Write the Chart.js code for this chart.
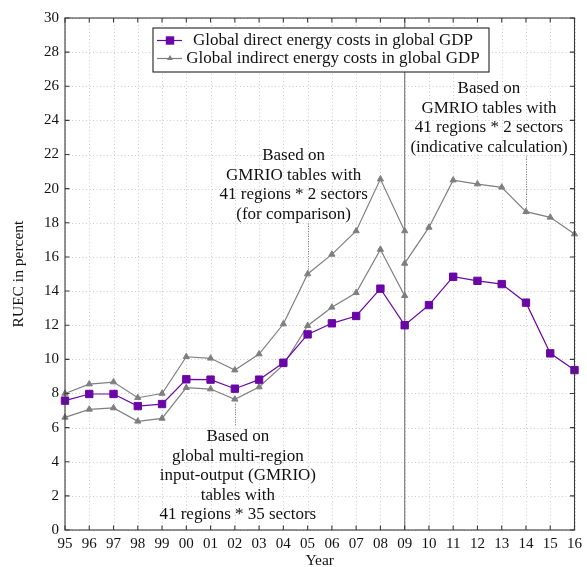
<!DOCTYPE html>
<html>
<head>
<meta charset="utf-8">
<script src="https://cdn.jsdelivr.net/npm/chart.js@4/dist/chart.umd.min.js"></script>
<style>
html,body{margin:0;padding:0;background:#fff;}
#wrap{width:587px;height:567px;}
</style>
</head>
<body>
<div id="wrap"><canvas id="c" width="587" height="567"></canvas></div>
<script>
// ---- data ----
const years = ['95','96','97','98','99','00','01','02','03','04','05','06','07','08','09','10','11','12','13','14','15','16'];
const directCosts = [7.58,7.97,7.97,7.26,7.38,8.83,8.81,8.28,8.81,9.80,11.46,12.11,12.54,14.14,12.00,13.18,14.84,14.60,14.41,13.32,10.35,9.37];
const indirect35Sectors = [6.60,7.07,7.15,6.37,6.54,8.34,8.26,7.66,8.38,9.67,11.97,13.05,13.90,16.44,13.73,null,null,null,null,null,null,null];
const indirect2SectorsComparison = [8.00,8.55,8.67,7.75,8.00,10.15,10.06,9.37,10.31,12.07,15.00,16.15,17.52,20.56,17.52,null,null,null,null,null,null,null];
const indirect2SectorsIndicative = [null,null,null,null,null,null,null,null,null,null,null,null,null,null,15.62,17.73,20.50,20.27,20.08,18.65,18.32,17.34];
const legendLabels = ['Global direct energy costs in global GDP','Global indirect energy costs in global GDP'];
const yTickValues = [0,2,4,6,8,10,12,14,16,18,20,22,24,26,28,30];
const splitYear = '09';
const annotationTexts = [
  ['Based on','global multi-region','input-output (GMRIO)','tables with','41 regions * 35 sectors'],
  ['Based on','GMRIO tables with','41 regions * 2 sectors','(for comparison)'],
  ['Based on','GMRIO tables with','41 regions * 2 sectors','(indicative calculation)']
];
const annotationAnchors = [
  {dataset: 1, year: '02'},
  {dataset: 2, year: '05'},
  {dataset: 3, year: '14'}
];

const PURPLE = '#6a06a6';
const GRAY = '#7f7f7f';
const FONT = "'Liberation Serif', 'Times New Roman', serif";

const overlay = {
  id: 'overlay',
  beforeDatasetsDraw(chart) {
    const ctx = chart.ctx, a = chart.chartArea;
    const xs = chart.scales.x, ys = chart.scales.y;
    ctx.save();
    // dotted grid
    ctx.strokeStyle = '#cdcdcd';
    ctx.lineWidth = 1;
    ctx.setLineDash([1, 2.5]);
    ctx.beginPath();
    years.forEach((y, i) => {
      const px = Math.round(xs.getPixelForValue(i)) + 0.5;
      ctx.moveTo(px, a.top); ctx.lineTo(px, a.bottom);
    });
    yTickValues.forEach(v => {
      const py = Math.round(ys.getPixelForValue(v)) + 0.5;
      ctx.moveTo(a.left, py); ctx.lineTo(a.right, py);
    });
    ctx.stroke();
    ctx.setLineDash([]);
    // vertical split line
    const sx = xs.getPixelForValue(years.indexOf(splitYear));
    ctx.strokeStyle = '#808080';
    ctx.lineWidth = 1.2;
    ctx.beginPath();
    ctx.moveTo(sx, a.top); ctx.lineTo(sx, a.bottom);
    ctx.stroke();
    ctx.restore();
  },
  afterDatasetsDraw(chart) {
    const ctx = chart.ctx, a = chart.chartArea;
    const xs = chart.scales.x, ys = chart.scales.y;
    ctx.save();
    // frame
    ctx.strokeStyle = '#3a3a3a';
    ctx.lineWidth = 1.1;
    ctx.strokeRect(a.left, a.top, a.right - a.left, a.bottom - a.top);
    // inward ticks
    ctx.beginPath();
    const tl = 4.5;
    years.forEach((y, i) => {
      const px = xs.getPixelForValue(i);
      ctx.moveTo(px, a.bottom); ctx.lineTo(px, a.bottom - tl);
      ctx.moveTo(px, a.top); ctx.lineTo(px, a.top + tl);
    });
    yTickValues.forEach(v => {
      const py = ys.getPixelForValue(v);
      ctx.moveTo(a.left, py); ctx.lineTo(a.left + tl, py);
      ctx.moveTo(a.right, py); ctx.lineTo(a.right - tl, py);
    });
    ctx.stroke();

    // annotations
    ctx.fillStyle = '#111';
    ctx.font = "17px " + FONT;
    ctx.textAlign = 'center';
    ctx.textBaseline = 'middle';
    const lh = 19.5;
    const layouts = [
      {dx: 3, top: 437 - a.top, below: true},
      {dx: -14, top: 156 - a.top, below: false},
      {dx: -37, top: 89 - a.top, below: false}
    ];
    annotationAnchors.forEach((an, k) => {
      const idx = years.indexOf(an.year);
      const meta = chart.getDatasetMeta(an.dataset);
      const pt = meta.data[idx];
      const px = pt.x, py = pt.y;
      const lines = annotationTexts[k];
      const L = layouts[k];
      const cx = px + L.dx;
      const firstY = a.top + L.top;
      lines.forEach((t, j) => ctx.fillText(t, cx, firstY + j * lh));
      // leader line
      ctx.save();
      ctx.strokeStyle = '#777';
      ctx.lineWidth = 1;
      ctx.setLineDash([1, 1.5]);
      ctx.beginPath();
      const lx = Math.round(px) + 0.5;
      if (L.below) {
        ctx.moveTo(lx, py + 5); ctx.lineTo(lx, firstY - 11);
      } else {
        const lastY = firstY + (lines.length - 1) * lh;
        ctx.moveTo(lx, lastY + 9); ctx.lineTo(lx, py - 4);
      }
      ctx.stroke();
      ctx.restore();
    });

    // legend
    const bx = a.left + 88, by = a.top + 10, bw = 336, bh = 44;
    ctx.fillStyle = '#fff';
    ctx.fillRect(bx, by, bw, bh);
    ctx.strokeStyle = '#222';
    ctx.lineWidth = 1.1;
    ctx.strokeRect(bx, by, bw, bh);
    const colors = [PURPLE, GRAY];
    const styles = ['rect', 'triangle'];
    const radii = [4.2, 3.2];
    legendLabels.forEach((lab, i) => {
      const ry = by + 12.5 + i * 18;
      ctx.strokeStyle = colors[i];
      ctx.lineWidth = 1.2;
      ctx.beginPath();
      ctx.moveTo(bx + 4, ry); ctx.lineTo(bx + 29, ry);
      ctx.stroke();
      ctx.fillStyle = colors[i];
      ctx.beginPath();
      if (styles[i] === 'rect') {
        const s = radii[i];
        ctx.fillRect(bx + 17 - s, ry - s, 2 * s, 2 * s);
      } else {
        Chart.helpers.drawPoint(ctx, {pointStyle: 'triangle', radius: radii[i], borderWidth: 0}, bx + 17, ry);
        ctx.fill();
      }
      ctx.fillStyle = '#111';
      ctx.font = "17px " + FONT;
      ctx.textAlign = 'center';
      ctx.textBaseline = 'middle';
      ctx.fillText(lab, bx + 180, ry);
    });
    ctx.restore();
  }
};

const baseLine = (data, color, style, radius) => ({
  data: data,
  borderColor: color,
  backgroundColor: color,
  pointBackgroundColor: color,
  pointBorderColor: color,
  pointStyle: style,
  pointRadius: radius,
  pointHoverRadius: radius,
  pointBorderWidth: 1,
  borderWidth: 1.2,
  tension: 0,
  spanGaps: false,
  fill: false
});

new Chart(document.getElementById('c'), {
  type: 'line',
  data: {
    labels: years,
    datasets: [
      Object.assign(baseLine(directCosts, PURPLE, 'rect', 5.2), {label: legendLabels[0], order: 0}),
      Object.assign(baseLine(indirect35Sectors, GRAY, 'triangle', 3.6), {label: legendLabels[1], order: 1}),
      Object.assign(baseLine(indirect2SectorsComparison, GRAY, 'triangle', 3.6), {label: legendLabels[1], order: 1}),
      Object.assign(baseLine(indirect2SectorsIndicative, GRAY, 'triangle', 3.6), {label: legendLabels[1], order: 1})
    ]
  },
  options: {
    responsive: false,
    animation: false,
    devicePixelRatio: 1,
    layout: {padding: {left: 0, right: 9, top: 18, bottom: 0}},
    plugins: {legend: {display: false}, tooltip: {enabled: false}},
    scales: {
      x: {
        type: 'category',
        offset: false,
        grid: {display: false, drawTicks: false},
        border: {display: false},
        ticks: {color: '#111', font: {family: FONT, size: 15}, padding: 5, maxRotation: 0, autoSkip: false},
        title: {display: true, text: 'Year', color: '#111', font: {family: FONT, size: 15.5}, padding: {top: 0, bottom: -3}},
        afterFit(s) { s.height = 37; }
      },
      y: {
        min: 0, max: 30,
        afterBuildTicks(s) { s.ticks = yTickValues.map(v => ({value: v})); },
        grid: {display: false, drawTicks: false},
        border: {display: false},
        ticks: {color: '#111', font: {family: FONT, size: 15}, padding: 6},
        title: {display: true, text: 'RUEC in percent', color: '#111', font: {family: FONT, size: 15.5}, padding: {top: 10, bottom: 0}},
        afterFit(s) { s.width = 65; }
      }
    }
  },
  plugins: [overlay]
});
</script>
</body>
</html>
